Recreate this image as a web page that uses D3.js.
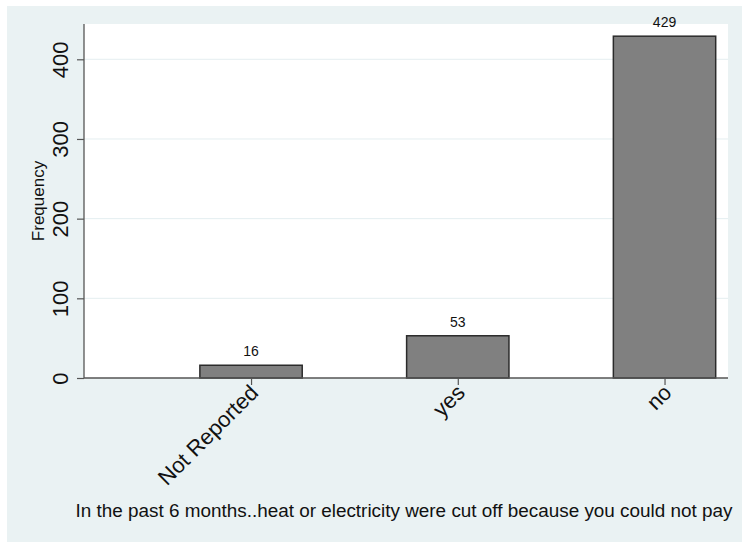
<!DOCTYPE html>
<html>
<head>
<meta charset="utf-8">
<script src="https://cdn.jsdelivr.net/npm/d3@7"></script>
<style>
  html, body { margin: 0; padding: 0; background: #ffffff; }
  svg { display: block; font-family: "Liberation Sans", Arial, Helvetica, sans-serif; }
</style>
</head>
<body>
<svg id="chart" width="742" height="542"></svg>
<script>
// ---- data ----
const categories = ["Not Reported", "yes", "no"];
const codes = [1, 2, 3];
const frequencies = [16, 53, 429];
const yTicks = [0, 100, 200, 300, 400];
const yTitle = "Frequency";
const xTitle = "In the past 6 months..heat or electricity were cut off because you could not pay";

// ---- layout ----
const W = 742, H = 542;
const plot = { left: 84, right: 728, top: 24, bottom: 378 };

const svg = d3.select("#chart");

// outer graph region background
svg.append("rect").attr("x", 7).attr("y", 6).attr("width", W - 7).attr("height", H - 6)
  .attr("fill", "#eaf2f3");
// plot region
svg.append("rect").attr("x", plot.left).attr("y", plot.top)
  .attr("width", plot.right - plot.left).attr("height", plot.bottom - plot.top)
  .attr("fill", "#ffffff");

const x = d3.scaleLinear().domain([0.192, 3.307]).range([plot.left, plot.right]);
const y = d3.scaleLinear().domain([0, 444.3]).range([plot.bottom, plot.top]);
const barW = 0.495;

// gridlines
svg.append("g").selectAll("line").data(yTicks.filter(d => d > 0)).join("line")
  .attr("x1", plot.left).attr("x2", plot.right)
  .attr("y1", d => y(d)).attr("y2", d => y(d))
  .attr("stroke", "#e4eef0").attr("stroke-width", 1);

// bars
svg.append("g").selectAll("rect").data(codes).join("rect")
  .attr("x", (d) => x(d - barW / 2))
  .attr("width", d => x(d + barW / 2) - x(d - barW / 2))
  .attr("y", (d, i) => y(frequencies[i]))
  .attr("height", (d, i) => y(0) - y(frequencies[i]))
  .attr("fill", "#808080").attr("stroke", "#2b2b2b").attr("stroke-width", 1.5);

// value labels
svg.append("g").selectAll("text").data(codes).join("text")
  .attr("x", d => x(d))
  .attr("y", (d, i) => y(frequencies[i]) - 9)
  .attr("text-anchor", "middle")
  .attr("font-size", 14).attr("fill", "#111")
  .text((d, i) => frequencies[i]);

// y axis
const yAxis = d3.axisLeft(y).tickValues(yTicks).tickSize(7).tickFormat(d3.format("d"));
const gy = svg.append("g").attr("transform", `translate(${plot.left},0)`).call(yAxis);
gy.select(".domain").attr("stroke", "#555").attr("stroke-width", 1.3)
  .attr("d", `M0,${plot.bottom}V${plot.top}`);
gy.selectAll(".tick line").attr("stroke", "#555").attr("stroke-width", 1.2);
gy.selectAll(".tick text")
  .attr("x", null).attr("dy", null)
  .attr("transform", "translate(-16,0) rotate(-90)")
  .attr("text-anchor", "middle")
  .attr("font-size", 22).attr("fill", "#111")
  .attr("font-family", "'Liberation Sans', Arial, sans-serif");

// x axis
const xAxis = d3.axisBottom(x).tickValues(codes).tickSize(7).tickFormat((d, i) => categories[i]);
const gx = svg.append("g").attr("transform", `translate(0,${plot.bottom})`).call(xAxis);
gx.select(".domain").attr("stroke", "#555").attr("stroke-width", 1.3)
  .attr("d", `M${plot.left},0H${plot.right}`);
gx.selectAll(".tick line").attr("stroke", "#555").attr("stroke-width", 1.2);
gx.selectAll(".tick text")
  .attr("y", null).attr("dy", null)
  .attr("transform", "translate(8,16) rotate(-45)")
  .attr("text-anchor", "end")
  .attr("font-size", 22).attr("fill", "#111")
  .attr("font-family", "'Liberation Sans', Arial, sans-serif");

// titles
svg.append("text")
  .attr("transform", `translate(44,${(plot.top + plot.bottom) / 2}) rotate(-90)`)
  .attr("text-anchor", "middle").attr("font-size", 17).attr("fill", "#111")
  .text(yTitle);

svg.append("text")
  .attr("x", 404).attr("y", 517)
  .attr("text-anchor", "middle").attr("font-size", 18.9).attr("fill", "#111")
  .text(xTitle);
</script>
</body>
</html>
